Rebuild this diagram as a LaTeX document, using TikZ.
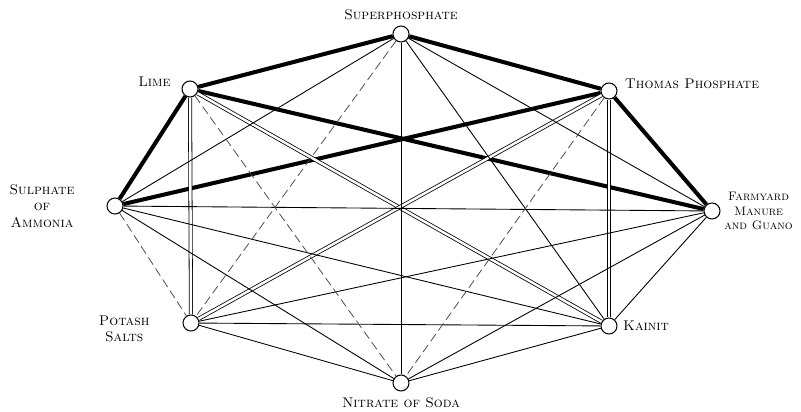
\documentclass[tikz,border=0pt]{standalone}
\usetikzlibrary{positioning}
\begin{document}
\begin{tikzpicture}[
  mix/.style={circle,draw,fill=white,line width=0.6pt,minimum size=0.32cm,inner sep=0pt},
  lbl/.style={font=\footnotesize\scshape,align=center,inner sep=1pt},
  never/.style={line width=2.3pt},
  quick/.style={double,double distance=1.4pt,line width=0.45pt},
  ok/.style={line width=0.5pt},
  faint/.style={line width=0.45pt,dash pattern=on 5pt off 2.5pt,black!70}]
 \useasboundingbox (0,0) rectangle (16.02,8.22);
 % the eight manures
 \node[mix] (sup) at (8.02,7.54) {};
 \node[mix] (lime) at (3.80,6.44) {};
 \node[mix] (thomas) at (12.18,6.40) {};
 \node[mix] (sulam) at (2.30,4.10) {};
 \node[mix] (farm) at (14.24,4.00) {};
 \node[mix] (potash) at (3.82,1.76) {};
 \node[mix] (kainit) at (12.18,1.70) {};
 \node[mix] (nitrate) at (8.02,0.56) {};
 % names
 \node[lbl,above=2pt of sup] (supT) {Superphosphate};
 \node[lbl,left=5pt of lime,yshift=4pt] (limeT) {Lime};
 \node[lbl,right=3pt of thomas,yshift=4pt] (thomasT) {Thomas Phosphate};
 \node[lbl,left=0.6cm of sulam] (sulamT) {Sulphate\\of\\Ammonia};
 \node[lbl,font=\scriptsize\scshape,right=1pt of farm] (farmT) {Farmyard\\Manure\\and Guano};
 \node[lbl,left=0.62cm of potash,yshift=-0.12cm] (potashT) {Potash\\Salts};
 \node[lbl,right=2pt of kainit] (kainitT) {Kainit};
 \node[lbl,below=2pt of nitrate] (nitrateT) {Nitrate of Soda};
 % thick: not to be mixed
 \foreach \a/\b in {sup/lime,sup/thomas,lime/sulam,lime/farm,thomas/sulam,thomas/farm}
  \draw[never] (\a) -- (\b);
 % double: mix just before use
 \foreach \a/\b in {lime/potash,lime/kainit,thomas/potash,thomas/kainit}
  \draw[quick] (\a) -- (\b);
 % thin: may be mixed
 \foreach \a/\b in {sup/sulam,sup/farm,sup/kainit,sup/nitrate,sulam/farm,sulam/kainit,
   sulam/nitrate,farm/potash,farm/kainit,farm/nitrate,potash/kainit,potash/nitrate,kainit/nitrate}
  \draw[ok] (\a) -- (\b);
 % faintly printed ones
 \foreach \a/\b in {sup/potash,lime/nitrate,thomas/nitrate,sulam/potash}
  \draw[faint] (\a) -- (\b);
\end{tikzpicture}
\end{document}
